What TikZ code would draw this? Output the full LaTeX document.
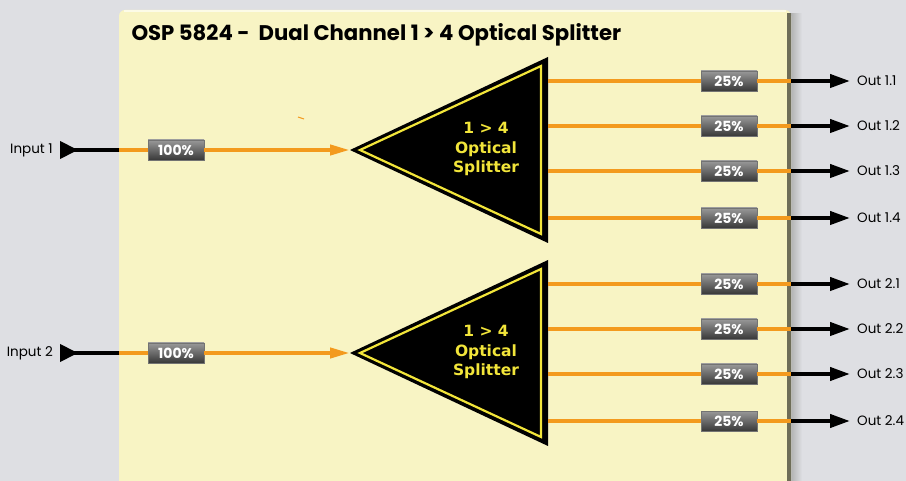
\documentclass[tikz,border=0pt]{standalone}
\usepackage{fontspec}
\setmainfont{Poppins}
\newfontfamily\splitfont{DejaVu Sans}
\usetikzlibrary{arrows.meta}
\definecolor{panel}{HTML}{F8F4C4}
\definecolor{bggray}{HTML}{DEDFE3}
\definecolor{fibre}{HTML}{F39A1E}
\definecolor{splitcol}{HTML}{F2E53A}
\definecolor{edgecol}{HTML}{6E6D57}
\tikzset{
  badge/.style={minimum width=56pt, minimum height=20pt, inner sep=0pt,
    top color=black!40, bottom color=black!78, draw=black!55,
    text=white, font=\bfseries\fontsize{14}{14}\selectfont},
  fibre/.style={draw=fibre, line width=4pt},
  lead/.style={draw=black, line width=4pt},
  portlabel/.style={font=\fontsize{13.5}{13.5}\selectfont, inner sep=0pt},
  splitlabel/.style={font=\splitfont\bfseries\fontsize{15.5}{19.5}\selectfont,
    text=splitcol, align=center},
}
\begin{document}
\begin{tikzpicture}[x=1pt,y=-1pt]
\useasboundingbox[fill=bggray] (0,0) rectangle (906,481);
% panel with its shadow
\shade[left color=black!30, right color=bggray] (791,14) rectangle (802,481);
\fill[panel, rounded corners=6pt] (119,481) -- (119,10) -- (791,10) -- (791,481);
\fill[edgecol] (787,13) rectangle (791,481);
\draw[white!60!panel, line width=1.5pt] (124,11) -- (786,11);
\node[anchor=base west, font=\bfseries\fontsize{21.2}{21.2}\selectfont] (title) at (128,41)
  {OSP 5824 -\ \ Dual Channel 1 > 4 Optical Splitter};
\draw[fibre, line width=1pt] (298,117) -- (304,119);
% two channels
\foreach \ch/\yc in {1/150,2/353}{
  \fill[black] (350,\yc) coordinate (tip\ch) -- (548,\yc-93)
    -- (548,\yc+93) -- cycle;
  \draw[splitcol, line width=2.2pt, line join=miter] (360,\yc) -- (541,\yc-84)
    -- (541,\yc+84) -- cycle;
  \node[splitlabel] (split\ch) at (486,\yc-1) {1 > 4\\Optical\\Splitter};
  \node[portlabel, anchor=east] (inlabel\ch) at (53,\yc) {Input \ch};
  \coordinate (src\ch) at (60,\yc);
  \coordinate (wall\ch) at (119,\yc);
  \node[badge] (full\ch) at (176,\yc) {100\%};
  \draw[lead, {Triangle[reversed,length=18pt,width=17pt]}-] (src\ch) -- (wall\ch);
  \draw[fibre] (wall\ch) -- (full\ch);
  \draw[fibre, -{Triangle[length=20pt,width=10pt]}] (full\ch) -- (tip\ch);
  \foreach \k/\dy in {1/-69,2/-24,3/21,4/68}{
    \coordinate (from\ch\k) at (548,\yc+\dy);
    \coordinate (port\ch\k) at (791,\yc+\dy);
    \node[badge] (part\ch\k) at (729,\yc+\dy) {25\%};
    \node[portlabel, anchor=west] (out\ch\k) at (857,\yc+\dy) {Out \ch.\k};
    \draw[fibre] (from\ch\k) -- (part\ch\k) -- (port\ch\k);
    \draw[lead, -{Triangle[length=20pt,width=13pt]}] (port\ch\k) -- ([xshift=-7pt]out\ch\k.west);
  }
}
\end{tikzpicture}
\end{document}
